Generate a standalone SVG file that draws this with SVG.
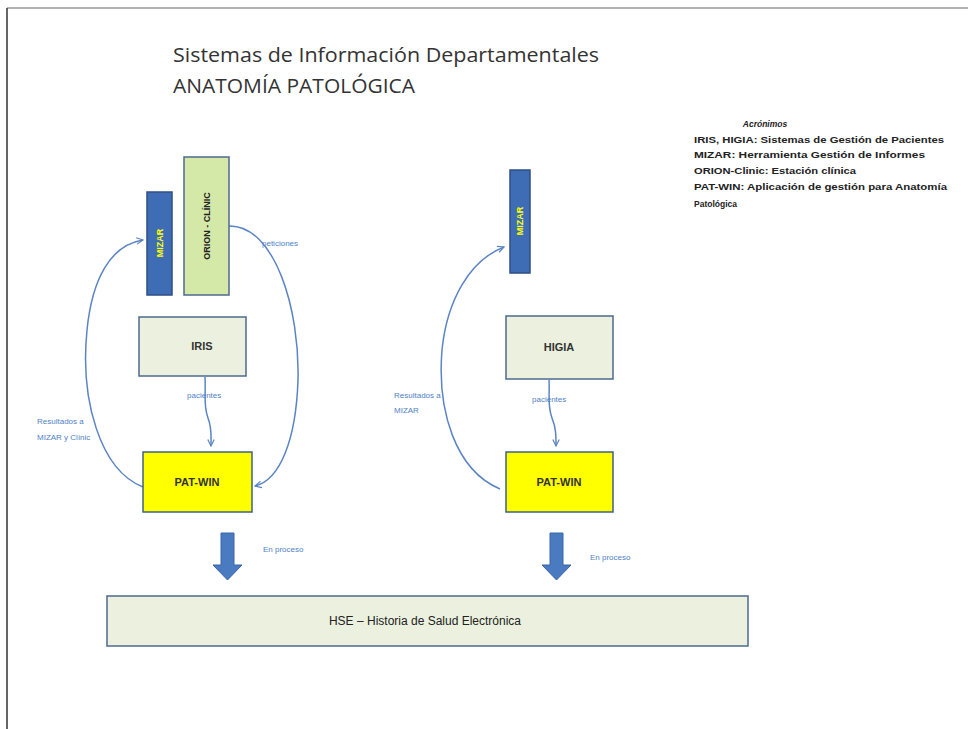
<svg xmlns="http://www.w3.org/2000/svg" width="968" height="729" viewBox="0 0 968 729">
<defs>
<style>
.title{font-family:"Open Sans","Liberation Sans",sans-serif;font-size:20px;fill:#333}
.lbl{font-family:"Liberation Sans",sans-serif;font-size:8px;fill:#4F7FC8}
.acr{font-family:"Liberation Sans",sans-serif;font-size:8.5px;fill:#222;font-weight:bold}
.box{font-family:"Liberation Sans",sans-serif;font-size:11px;fill:#333;font-weight:bold}
.curve{fill:none;stroke:#5B84C4;stroke-width:1.5}
.mizar{fill:#3E6DB5;stroke:#2E4F85;stroke-width:1.5}
.pale{fill:#EBF1DE;stroke:#4D6A8E;stroke-width:1.5}
.yel{fill:#FFFF00;stroke:#3F5F8C;stroke-width:1.5}
.blk{fill:#4A7BC0;stroke:#3A66A8;stroke-width:1}
</style>
<marker id="ah" viewBox="0 0 10 10" refX="9" refY="5" markerWidth="8" markerHeight="8" orient="auto" markerUnits="userSpaceOnUse">
<path d="M1,1 L9,5 L1,9" fill="none" stroke="#5B84C4" stroke-width="1.5"/>
</marker>
</defs>
<rect width="968" height="729" fill="#fff"/>
<g id="frame">
<line x1="7" y1="8" x2="968" y2="8" stroke="#999" stroke-width="1.5"/>
<line x1="7" y1="8" x2="7" y2="729" stroke="#333" stroke-width="1.5"/>
</g>
<g id="title">
<text class="title" x="173" y="62" textLength="426" lengthAdjust="spacingAndGlyphs">Sistemas de Información Departamentales</text>
<text class="title" x="173" y="93" textLength="242" lengthAdjust="spacingAndGlyphs">ANATOMÍA PATOLÓGICA</text>
</g>
<g id="acronimos">
<text class="acr" x="765" y="127" text-anchor="middle" font-style="italic" font-weight="normal">Acrónimos</text>
<text class="acr" x="694" y="143" textLength="250" lengthAdjust="spacingAndGlyphs">IRIS, HIGIA: Sistemas de Gestión de Pacientes</text>
<text class="acr" x="694" y="158" textLength="231" lengthAdjust="spacingAndGlyphs">MIZAR: Herramienta Gestión de Informes</text>
<text class="acr" x="694" y="174" textLength="162" lengthAdjust="spacingAndGlyphs">ORION-Clinic: Estación clínica</text>
<text class="acr" x="694" y="190" textLength="253" lengthAdjust="spacingAndGlyphs">PAT-WIN: Aplicación de gestión para Anatomía</text>
<text class="acr" x="694" y="207">Patológica</text>
</g>
<g id="connectors">
<path class="curve" d="M229,226 C275,225 300,310 298,380 C296,440 280,480 255,486" marker-end="url(#ah)"/>
<path class="curve" d="M143,487 C100,470 80,400 87,330 C92,280 110,245 143,240" marker-end="url(#ah)"/>
<path class="curve" d="M205,377 C206,395 203,405 208,418 C212,428 211,435 211,446" marker-end="url(#ah)"/>
<path class="curve" d="M500,489 C455,470 437,410 442,350 C447,300 470,260 504,247" marker-end="url(#ah)"/>
<path class="curve" d="M549,380 C550,395 547,405 552,418 C556,428 556,435 556,446" marker-end="url(#ah)"/>
<path class="blk" d="M221,533 H234 V565 H242 L227.5,580 L213,565 H221 Z"/>
<path class="blk" d="M550,533 H563 V565 H571 L556.5,580 L542,565 H550 Z"/>
</g>
<g id="labels">
<text class="lbl" x="262" y="246">peticiones</text>
<text class="lbl" x="187" y="398">pacientes</text>
<text class="lbl" x="37" y="424">Resultados a</text>
<text class="lbl" x="37" y="440">MIZAR y Clínic</text>
<text class="lbl" x="532" y="402">pacientes</text>
<text class="lbl" x="394" y="398">Resultados a</text>
<text class="lbl" x="394" y="413">MIZAR</text>
<text class="lbl" x="263" y="552">En proceso</text>
<text class="lbl" x="590" y="560">En proceso</text>
</g>
<g id="mizar1">
<rect class="mizar" x="147" y="192" width="25" height="103"/>
<text class="box" fill="#FFFF00" style="fill:#FFFF00;font-size:9px" transform="translate(163,243) rotate(-90)" text-anchor="middle">MIZAR</text>
</g>
<g id="orion">
<rect x="184" y="157" width="45" height="138" fill="#D4E8A8" stroke="#4D6A8E" stroke-width="1.5"/>
<text class="box" style="font-size:9px;fill:#222" transform="translate(210,226) rotate(-90)" text-anchor="middle">ORION - CLÍNIC</text>
</g>
<g id="iris">
<rect class="pale" x="139" y="317" width="107" height="59"/>
<text class="box" x="202" y="350" text-anchor="middle">IRIS</text>
</g>
<g id="patwin1">
<rect class="yel" x="143" y="452" width="109" height="60"/>
<text class="box" x="197" y="486" text-anchor="middle">PAT-WIN</text>
</g>
<g id="mizar2">
<rect class="mizar" x="510" y="170" width="20" height="103"/>
<text class="box" style="fill:#FFFF00;font-size:9px" transform="translate(523,221) rotate(-90)" text-anchor="middle">MIZAR</text>
</g>
<g id="higia">
<rect class="pale" x="506" y="316" width="107" height="63"/>
<text class="box" x="559" y="351" text-anchor="middle">HIGIA</text>
</g>
<g id="patwin2">
<rect class="yel" x="506" y="452" width="107" height="60"/>
<text class="box" x="559" y="486" text-anchor="middle">PAT-WIN</text>
</g>
<g id="hse">
<rect class="pale" x="107" y="596" width="641" height="50"/>
<text class="box" x="425" y="625" text-anchor="middle" style="font-weight:normal;font-size:12px;fill:#222">HSE – Historia de Salud Electrónica</text>
</g>
</svg>
